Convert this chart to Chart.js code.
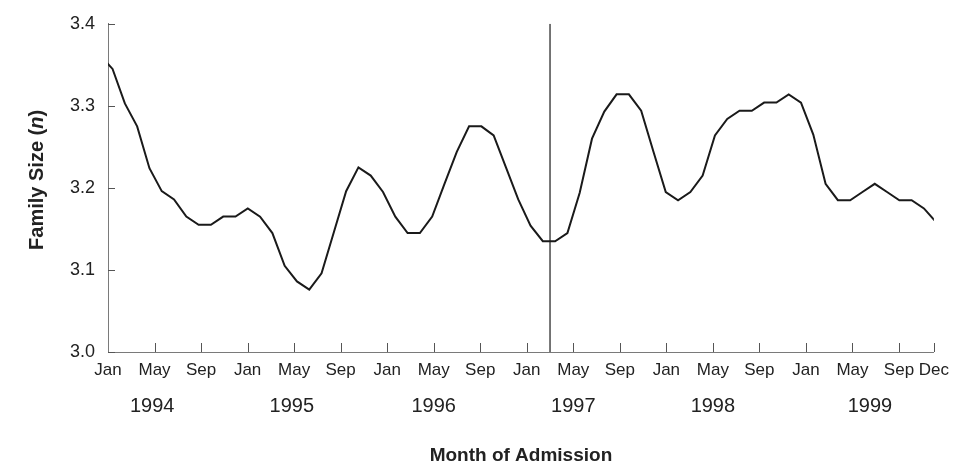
<!DOCTYPE html>
<html><head><meta charset="utf-8">
<script src="https://cdn.jsdelivr.net/npm/chart.js@4.4.1/dist/chart.umd.min.js"></script>
<style>html,body{margin:0;padding:0;background:#fff;}#wrap{width:957px;height:473px;}</style>
</head><body><div id="wrap"><canvas id="c" width="957" height="473"></canvas></div>
<script>
// Family size series (one value per plotted sample)
const familySize = [
  3.361, 3.345, 3.303, 3.275, 3.224, 3.196, 3.186, 3.165, 3.155, 3.155,
  3.165, 3.165, 3.175, 3.165, 3.145, 3.105, 3.086, 3.076, 3.096, 3.146,
  3.196, 3.225, 3.215, 3.195, 3.165, 3.145, 3.145, 3.165, 3.205, 3.244,
  3.275, 3.275, 3.264, 3.225, 3.186, 3.154, 3.135, 3.135, 3.145, 3.194,
  3.260, 3.293, 3.314, 3.314, 3.294, 3.244, 3.195, 3.185, 3.195, 3.215,
  3.264, 3.284, 3.294, 3.294, 3.304, 3.304, 3.314, 3.304, 3.265, 3.205,
  3.185, 3.185, 3.195, 3.205, 3.195, 3.185, 3.185, 3.175, 3.158
];
// Month ticks (months since Jan 1994)
const monthTickValues = [0,4,8,12,16,20,24,28,32,36,40,44,48,52,56,60,64,68,71];
const monthTickLabels = ['Jan','May','Sep','Jan','May','Sep','Jan','May','Sep','Jan','May','Sep','Jan','May','Sep','Jan','May','Sep','Dec'];
const yearLabels = ['1994','1995','1996','1997','1998','1999'];
const yearTickValues = [3.8,15.8,28,40,52,65.5];
const yTickValues = [3.0,3.1,3.2,3.3,3.4];
const interventionMonth = 38; // Mar 1997

const FONT = "'Liberation Sans', Arial, Helvetica, sans-serif";
const AXIS = '#7a7a7a';
const TXT = '#222';

const tickPlugin = {
  id:'inwardTicks',
  afterDatasetsDraw(chart){
    const c = chart.ctx, xs = chart.scales.x, ys = chart.scales.y;
    c.save();
    c.strokeStyle = '#555'; c.lineWidth = 1;
    yTickValues.forEach(v=>{
      const py = Math.round(ys.getPixelForValue(v))+0.5;
      c.beginPath(); c.moveTo(xs.left, py); c.lineTo(xs.left+7, py); c.stroke();
    });
    monthTickValues.forEach(v=>{
      if (v===0) return;
      const px = Math.round(xs.getPixelForValue(v))+0.5;
      c.beginPath(); c.moveTo(px, ys.bottom); c.lineTo(px, ys.bottom-9); c.stroke();
    });
    c.restore();
  }
};
const yTitlePlugin = {
  id:'yTitle',
  afterDraw(chart){
    const c = chart.ctx, ys = chart.scales.y;
    const parts = [["bold 20px "+FONT,'Family Size ('],["italic bold 20px "+FONT,'n'],["bold 20px "+FONT,')']];
    c.save();
    let w = 0;
    parts.forEach(p=>{c.font=p[0]; w+=c.measureText(p[1]).width;});
    c.translate(37, (ys.top+ys.bottom)/2 - 8);
    c.rotate(-Math.PI/2);
    c.fillStyle = TXT; c.textBaseline='middle';
    let x = -w/2;
    parts.forEach(p=>{c.font=p[0]; c.fillText(p[1], x, 0); x+=c.measureText(p[1]).width;});
    c.restore();
  }
};

new Chart(document.getElementById('c'), {
  type:'line',
  data:{datasets:[
    {data: familySize.map((v,i)=>({x:i,y:v})), xAxisID:'xd', yAxisID:'y',
     borderColor:'#1a1a1a', borderWidth:2, pointRadius:0, tension:0, clip:0},
    {data:[{x:interventionMonth,y:yTickValues[0]},{x:interventionMonth,y:yTickValues[yTickValues.length-1]}],
     xAxisID:'x', yAxisID:'y', borderColor:'#1a1a1a', borderWidth:1.2, pointRadius:0, clip:0}
  ]},
  options:{
    responsive:false, animation:false, devicePixelRatio:1,
    layout:{padding:{left:0,right:22,top:17,bottom:0}},
    plugins:{legend:{display:false}, tooltip:{enabled:false}},
    scales:{
      y:{type:'linear', min:3.0, max:3.4, position:'left',
         afterFit(s){ s.width = 108; },
         afterBuildTicks(s){ s.ticks = yTickValues.map(v=>({value:v})); },
         ticks:{callback:v=>Number(v).toFixed(1), font:{family:FONT,size:18}, color:TXT, padding:13},
         grid:{display:false, drawTicks:false}, border:{display:true,color:AXIS,width:1}},
      x:{type:'linear', min:0, max:71, position:'bottom',
         afterFit(s){ s.height = 38; },
         afterBuildTicks(s){ s.ticks = monthTickValues.map(v=>({value:v})); },
         ticks:{autoSkip:false, maxRotation:0, callback:(v,i)=>monthTickLabels[i], font:{family:FONT,size:17}, color:TXT, padding:8},
         grid:{display:false, drawTicks:false}, border:{display:true,color:AXIS,width:1}},
      xYear:{type:'linear', min:0, max:71, position:'bottom',
         afterFit(s){ s.height = 83; },
         afterBuildTicks(s){ s.ticks = yearTickValues.map(v=>({value:v})); },
         ticks:{autoSkip:false, maxRotation:0, callback:(v,i)=>yearLabels[i], font:{family:FONT,size:20}, color:TXT, padding:4},
         grid:{display:false, drawTicks:false}, border:{display:false},
         title:{display:true, text:'Month of Admission', font:{family:FONT,size:19,weight:'bold'}, color:TXT, padding:{top:0,bottom:6}}},
      xd:{type:'linear', display:false, min:0.629, max:67.81}
    }
  },
  plugins:[tickPlugin, yTitlePlugin]
});
</script></body></html>
